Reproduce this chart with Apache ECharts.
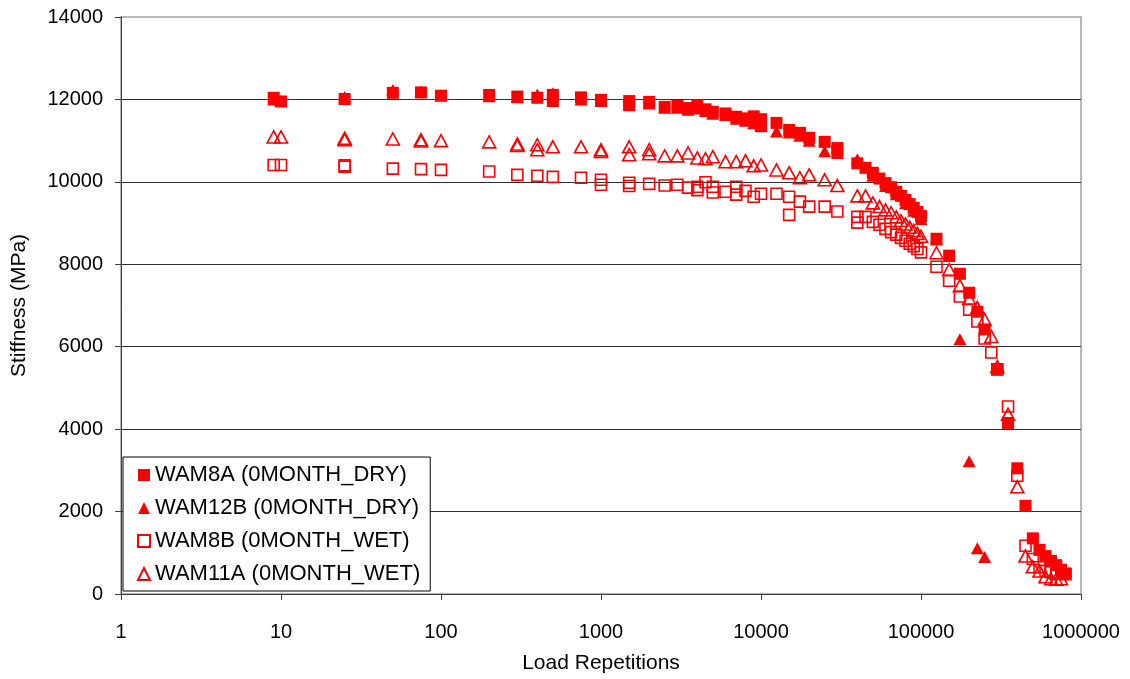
<!DOCTYPE html>
<html>
<head>
<meta charset="utf-8">
<style>
html,body{margin:0;padding:0;background:#fff;}
#chart{width:1130px;height:679px;}
</style>
<script src="https://cdn.jsdelivr.net/npm/echarts@6/dist/echarts.min.js"></script>
</head>
<body>
<div id="chart"></div>
<script>
// ---- Data ----
const xTickLabels = ["1","10","100","1000","10000","100000","1000000"];
const yTickLabels = ["0","2000","4000","6000","8000","10000","12000","14000"];

const seriesNames = ["WAM8A (0MONTH_DRY)","WAM12B (0MONTH_DRY)","WAM8B (0MONTH_WET)","WAM11A (0MONTH_WET)"];

const wam8aReps  = [9,10,25,50,75,100,200,300,400,500,500,750,1000,1500,1500,2000,2500,3000,3500,4000,4500,5000,6000,7000,8000,9000,10000,10000,12500,15000,17500,20000,25000,30000,30000,40000,45000,50000,55000,60000,65000,70000,75000,80000,85000,90000,95000,100000,125000,150000,175000,200000,225000,250000,300000,350000,400000,450000,500000,550000,600000,650000,700000,750000,800000];
const wam8aStiff = [12040,11950,12010,12160,12170,12090,12110,12070,12040,12110,11960,12050,11990,11960,11860,11940,11820,11840,11790,11860,11760,11700,11660,11580,11540,11590,11520,11350,11430,11260,11190,11070,10970,10820,10740,10450,10340,10220,10080,9970,9870,9760,9660,9560,9460,9370,9270,9170,8620,8210,7770,7310,6850,6420,5450,4150,3050,2140,1350,1070,920,800,700,590,500];

const wam12bReps  = [9,10,25,50,75,100,200,300,400,500,750,1000,1500,2000,2500,3000,3500,4000,4500,5000,6000,7000,8000,9000,10000,12500,15000,17500,20000,25000,30000,40000,50000,60000,70000,80000,90000,100000,125000,150000,175000,200000,225000,250000];
const wam12bStiff = [12000,11960,12060,12230,12190,12100,12080,12050,12120,12150,12000,11960,11880,11900,11800,11800,11750,11780,11720,11650,11620,11530,11480,11420,11380,11220,11200,11120,11000,10740,10700,10550,10150,9900,9700,9480,9300,9100,8600,8200,6180,3220,1110,900];

const wam8bReps  = [9,10,25,25,50,75,100,200,300,400,500,750,1000,1000,1500,1500,2000,2500,3000,3500,4000,4000,4500,5000,5000,6000,7000,7000,8000,9000,10000,12500,15000,15000,17500,20000,25000,30000,40000,40000,45000,50000,55000,60000,65000,70000,75000,80000,85000,90000,95000,100000,125000,150000,175000,200000,225000,250000,275000,300000,350000,400000,450000,500000,550000,600000,650000,700000,800000];
const wam8bStiff = [10410,10410,10400,10370,10320,10310,10290,10250,10170,10150,10120,10100,10050,9930,9980,9900,9950,9910,9930,9860,9880,9800,9990,9880,9740,9760,9880,9690,9780,9640,9710,9710,9640,9200,9520,9400,9400,9280,9150,9010,9150,9030,8960,8860,8780,8720,8640,8570,8500,8440,8370,8290,7940,7600,7220,6900,6610,6200,5860,5450,4550,2870,1170,850,650,560,530,500,480];

const wam11aReps  = [9,10,25,25,50,75,75,100,200,300,300,400,400,500,750,1000,1000,1500,1500,2000,2000,2500,3000,3500,4000,4500,5000,6000,7000,8000,9000,10000,12500,15000,17500,20000,25000,30000,40000,45000,50000,55000,60000,65000,70000,75000,80000,85000,90000,95000,100000,125000,150000,175000,200000,225000,250000,275000,300000,350000,400000,450000,500000,550000,600000,650000,700000,750000];
const wam11aStiff = [11090,11090,11060,11020,11040,11020,10990,11000,10970,10920,10880,10900,10780,10850,10850,10780,10740,10850,10660,10780,10680,10630,10630,10700,10580,10560,10610,10490,10490,10510,10390,10410,10290,10220,10100,10170,10050,9910,9660,9660,9490,9400,9320,9250,9150,9060,8980,8900,8820,8750,8680,8280,7870,7480,7170,6950,6660,6250,5520,4360,2600,920,660,560,420,370,360,370];

function pairs(xs, ys){ return xs.map((x,i)=>[x, ys[i]]); }

const FONT = "'Liberation Sans', Arial, sans-serif";
const RED = '#ff0000';

const chart = echarts.init(document.getElementById('chart'), null, {renderer:'canvas'});
chart.setOption({
  animation: false,
  backgroundColor: '#ffffff',
  textStyle: {fontFamily: FONT},
  grid: {left:121, right:49, top:17, bottom:84, show:true, borderColor:'#a0a0a0', borderWidth:1.5, backgroundColor:'transparent'},
  xAxis: {
    type:'log', logBase:10, min:1, max:1000000,
    name:'Load Repetitions', nameLocation:'middle', nameGap:59,
    nameTextStyle:{fontSize:21, color:'#000', fontFamily:FONT},
    axisLine:{show:true, onZero:false, lineStyle:{color:'#404040', width:1}},
    axisTick:{show:true, inside:false, length:6, lineStyle:{color:'#404040'}},
    axisLabel:{fontSize:20, color:'#000', margin:28, fontFamily:FONT,
      formatter:(v)=>{ const e=Math.round(Math.log10(v)); return xTickLabels[e] !== undefined ? xTickLabels[e] : ''; }},
    splitLine:{show:false}
  },
  yAxis: {
    type:'value', min:0, max:14000, interval:2000,
    name:'Stiffness (MPa)', nameLocation:'middle', nameGap:91, nameRotate:90,
    nameTextStyle:{fontSize:21, color:'#000', fontFamily:FONT},
    axisLine:{show:true, lineStyle:{color:'#404040', width:1}},
    axisTick:{show:true, inside:false, length:6, lineStyle:{color:'#404040'}},
    axisLabel:{fontSize:20, color:'#000', margin:18, fontFamily:FONT,
      formatter:(v)=>yTickLabels[Math.round(v/2000)]},
    splitLine:{show:true, showMinLine:false, showMaxLine:false, lineStyle:{color:'#303030', width:1}}
  },
  legend: {
    orient:'vertical', left:123, top:457,
    backgroundColor:'#fff', borderColor:'#000', borderWidth:1,
    padding:[7,10,6,14], itemGap:11, itemWidth:12, itemHeight:12,
    textStyle:{fontSize:22, color:'#000', fontFamily:FONT, lineHeight:22},
    data: seriesNames
  },
  series: [
    {name:seriesNames[0], type:'scatter', symbol:'rect', symbolSize:12,
     itemStyle:{color:RED, opacity:1}, data:pairs(wam8aReps, wam8aStiff)},
    {name:seriesNames[1], type:'scatter', symbol:'triangle', symbolSize:[13,12],
     itemStyle:{color:RED, opacity:1}, data:pairs(wam12bReps, wam12bStiff)},
    {name:seriesNames[2], type:'scatter', symbol:'rect', symbolSize:11,
     itemStyle:{color:'rgba(255,255,255,0)', borderColor:RED, borderWidth:1.6, opacity:1}, data:pairs(wam8bReps, wam8bStiff)},
    {name:seriesNames[3], type:'scatter', symbol:'triangle', symbolSize:[13,12],
     itemStyle:{color:'rgba(255,255,255,0)', borderColor:RED, borderWidth:1.6, opacity:1}, data:pairs(wam11aReps, wam11aStiff)}
  ]
});
</script>
</body>
</html>
